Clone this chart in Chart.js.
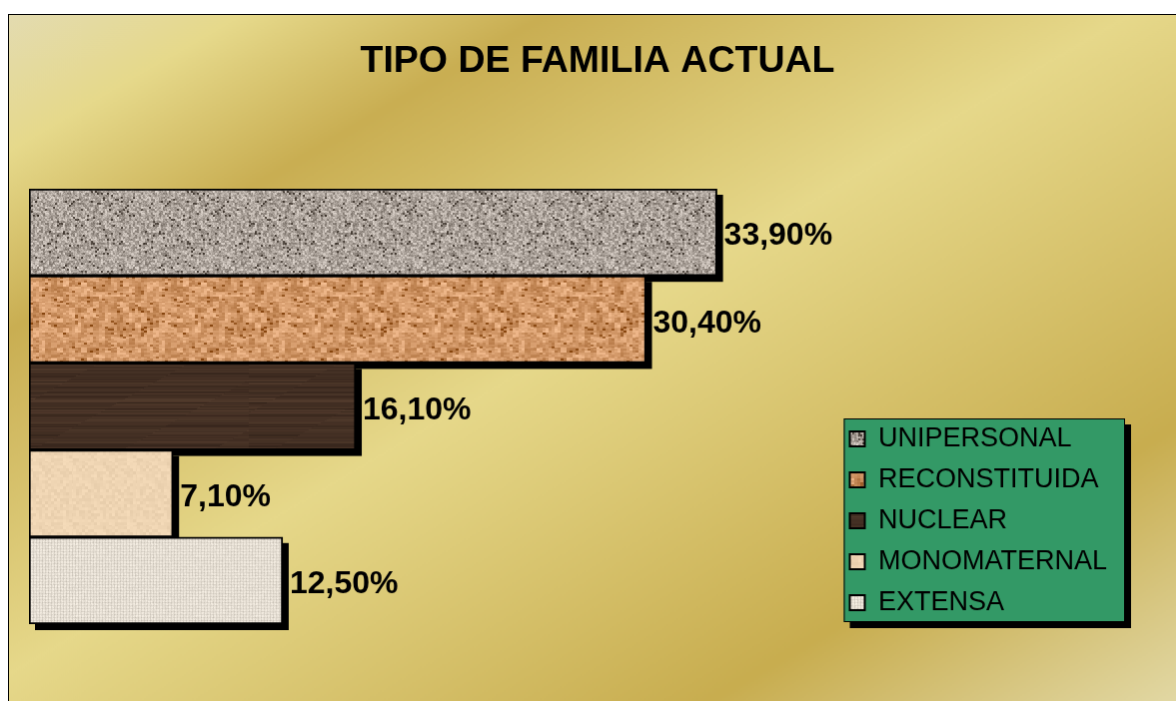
<!DOCTYPE html>
<html>
<head>
<meta charset="utf-8">
<script src="https://cdn.jsdelivr.net/npm/chart.js@4.4.0/dist/chart.umd.min.js"></script>
<style>
html,body{margin:0;padding:0;background:#fff;overflow:hidden}
#grafico{position:absolute;left:8px;top:14px;border-left:1px solid #000;border-top:1px solid #000}
</style>
</head>
<body>
<canvas id="grafico" width="1168" height="687"></canvas>
<script>
// datos del grafico
const tipos = ["UNIPERSONAL","RECONSTITUIDA","NUCLEAR","MONOMATERNAL","EXTENSA"];
const porcentajes = [33.9, 30.4, 16.1, 7.1, 12.5];
const grupo = [""];
const titulo = "TIPO DE FAMILIA ACTUAL";

const fuente = '"Liberation Sans", Arial, sans-serif';
Chart.defaults.font.family = fuente;

// ruido fijo para las texturas (solo estilo)
function ruido(n){
  let v = Math.sin(n*12.9898+78.233)*43758.5453;
  return v-Math.floor(v);
}

function textura(w,h,fn){
  let c=document.createElement("canvas");
  c.width=w;c.height=h;
  let cx=c.getContext("2d");
  let img=cx.createImageData(w,h);
  for(let y=0;y<h;y++){
    for(let x=0;x<w;x++){
      let col=fn(x,y);
      let i=(y*w+x)*4;
      img.data[i]=col[0];img.data[i+1]=col[1];img.data[i+2]=col[2];img.data[i+3]=255;
    }
  }
  cx.putImageData(img,0,0);
  return cx.createPattern(c,"repeat");
}

let granito=textura(96,96,(x,y)=>{
  let a=ruido(Math.floor(x/2)+Math.floor(y/2)*1013);
  let b=ruido(x*3+y*997+5);
  let l=(a*0.65+b*0.35-0.5)*120;
  if(a<0.06) l-=55;
  return [172+l,163+l,155+l];
});

let corcho=textura(120,96,(x,y)=>{
  let a=ruido(Math.floor(x/6)+Math.floor(y/5)*731);
  let b=ruido(Math.floor(x/3)+Math.floor(y/2)*577+3);
  let l=(a*0.6+b*0.4-0.5)*75;
  if(b<0.05) l-=40;
  return [210+l,152+l*1.1,104+l*1.2];
});

let madera=textura(240,87,(x,y)=>{
  let a=ruido(y*31+7);
  let b=ruido(Math.floor(x/90+y*0.02)+y*131);
  let l=(a*0.55+b*0.45-0.5)*34;
  return [68+l,48+l*0.8,36+l*0.6];
});

let papel=textura(64,64,(x,y)=>{
  let a=ruido(Math.floor(x/3)+Math.floor(y/3)*409);
  let l=(a-0.5)*14;
  return [238+l,212+l,178+l];
});

let lino=textura(60,60,(x,y)=>{
  let a=ruido(x*7+y*613+11);
  let l=(a-0.5)*18;
  if(x%3==0) l-=18;
  if(y%3==0) l-=14;
  return [238+l,231+l,220+l];
});

const texturas=[granito,corcho,madera,papel,lino];

let datasets=tipos.map((t,i)=>({
  label:t,
  data:[porcentajes[i]],
  backgroundColor:texturas[i],
  borderColor:"#000",
  borderWidth:2,
  borderSkipped:false,
  categoryPercentage:1,
  barPercentage:1
}));

const fondo={
  id:"fondo",
  afterLayout(chart){
    // centrar titulo y colocar leyenda como en el original
    let tb=chart.titleBlock;
    tb.left+=22;tb.right+=22;
    let lg=chart.legend;
    lg.left-=5;lg.right-=5;
    lg.top+=6;lg.bottom+=6;
  },
  beforeDraw(chart){
    let {ctx,width,height}=chart;
    ctx.save();
    ctx.scale(width,height);
    let g=ctx.createLinearGradient(0,0,1,1);
    g.addColorStop(0,"#e3dbb0");
    g.addColorStop(0.1,"#e6d98b");
    g.addColorStop(0.23,"#c9ae52");
    g.addColorStop(0.48,"#e6d88a");
    g.addColorStop(0.8,"#c8ad4f");
    g.addColorStop(1,"#e2d8a4");
    ctx.fillStyle=g;
    ctx.fillRect(0,0,1,1);
    ctx.restore();

    // caja verde de la leyenda con sombra
    let lg=chart.legend;
    let col=lg.columnSizes[0];
    let top=lg.bottom-col.height;
    let x0=lg.left+8;
    let y0=top-7;
    let w=col.width+24;
    let h=col.height-1;
    ctx.save();
    ctx.fillStyle="#000";
    ctx.fillRect(x0+6,y0+6,w,h);
    ctx.fillStyle="#339966";
    ctx.fillRect(x0,y0,w,h);
    ctx.strokeStyle="#000";
    ctx.lineWidth=1;
    ctx.strokeRect(x0+0.5,y0+0.5,w-1,h-1);
    ctx.restore();
  },
  beforeDatasetsDraw(chart){
    let ctx=chart.ctx;
    ctx.save();
    ctx.fillStyle="#000";
    chart.getSortedVisibleDatasetMetas().forEach(meta=>{
      meta.data.forEach(bar=>{
        let {x,y,base,height}=bar.getProps(["x","y","base","height"],true);
        ctx.fillRect(Math.min(x,base)+6,y-height/2+6,Math.abs(x-base),height);
      });
    });
    ctx.restore();
  },
  afterDatasetsDraw(chart){
    let ctx=chart.ctx;
    ctx.save();
    ctx.fillStyle="#000";
    ctx.font="bold 32px "+fuente;
    ctx.textBaseline="middle";
    chart.getSortedVisibleDatasetMetas().forEach(meta=>{
      meta.data.forEach((bar,j)=>{
        let v=chart.data.datasets[meta.index].data[j];
        let {x,y}=bar.getProps(["x","y"],true);
        ctx.fillText(v.toFixed(2).replace(".",",")+"%",x+7,y+4);
      });
    });
    ctx.restore();
  }
};

new Chart(document.getElementById("grafico"),{
  type:"bar",
  data:{labels:grupo,datasets:datasets},
  options:{
    indexAxis:"y",
    responsive:false,
    animation:false,
    devicePixelRatio:1,
    layout:{padding:{left:20,right:54,bottom:77,top:0}},
    scales:{
      x:{min:0,max:40,display:false},
      y:{display:false}
    },
    plugins:{
      title:{
        display:true,
        text:titulo,
        color:"#000",
        font:{size:37.5,weight:"bold"},
        padding:{top:24,bottom:105}
      },
      legend:{
        position:"right",
        align:"end",
        labels:{
          color:"#000",
          font:{size:27},
          boxWidth:15,
          boxHeight:15,
          padding:14
        }
      },
      tooltip:{enabled:false}
    }
  },
  plugins:[fondo]
});
</script>
</body>
</html>
